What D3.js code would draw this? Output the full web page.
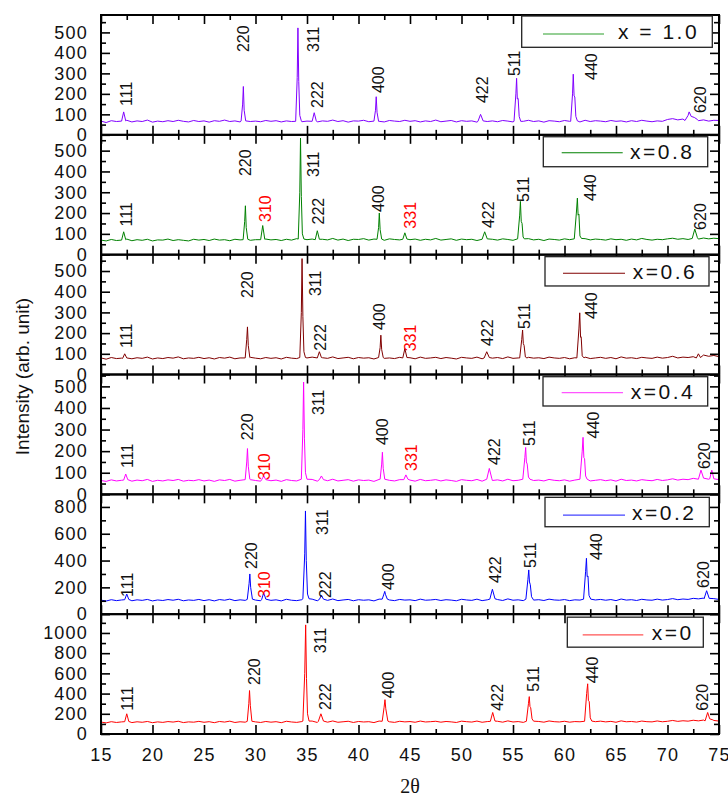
<!DOCTYPE html>
<html lang="en">
<head>
<meta charset="UTF-8">
<title>XRD patterns</title>
<script src="https://cdn.jsdelivr.net/npm/d3@7"></script>
<style>
  html, body { margin: 0; background: #fff; overflow: hidden; }
  text { font-family: "Liberation Sans", Arial, sans-serif; }
</style>
</head>
<body>
<svg id="svg"></svg>
<script>
// ---- data ----
const compositions = ['x = 1.0', 'x=0.8', 'x=0.6', 'x=0.4', 'x=0.2', 'x=0'];
const yMax = [585, 576, 579, 555, 894, 1186];
const yMajor = [[0, 100, 200, 300, 400, 500], [0, 100, 200, 300, 400, 500], [0, 100, 200, 300, 400, 500],
                [0, 100, 200, 300, 400, 500], [0, 200, 400, 600, 800], [0, 200, 400, 600, 800, 1000]];
const yMinor = [[50, 150, 250, 350, 450, 550], [50, 150, 250, 350, 450, 550], [50, 150, 250, 350, 450, 550],
                [50, 150, 250, 350, 450, 550], [100, 300, 500, 700], [100, 300, 500, 700, 900, 1100]];
const xMajor = [15, 20, 25, 30, 35, 40, 45, 50, 55, 60, 65, 70, 75];
const xMinor = [17.5, 22.5, 27.5, 32.5, 37.5, 42.5, 47.5, 52.5, 57.5, 62.5, 67.5, 72.5];

// background counts, one value every 0.5 deg from 15 to 75
const theta = d3.range(15, 75.001, 0.5);
const base10 = [67,60,69,65,68,71,63,68,65,72,62,67,64,69,65,71,66,63,70,65,68,62,69,66,72,65,68,63,71,65,
  67,64,70,66,69,63,68,65,71,64,67,70,63,68,66,72,65,69,62,68,67,71,64,69,66,63,70,67,65,71,
  66,69,63,68,65,72,64,67,70,63,69,66,68,62,71,65,68,64,70,67,63,69,66,71,65,68,62,69,67,64,
  70,66,68,63,71,65,69,67,64,70,66,68,63,69,65,71,67,64,68,66,75,79,73,77,71,75,69,73,67,71,70];
const base08 = [70,66,73,68,71,75,67,72,69,74,66,71,70,75,68,72,69,66,74,70,73,68,75,70,72,67,74,71,76,69,
  72,70,75,71,73,68,74,70,77,69,72,75,70,74,71,78,70,75,68,74,73,77,70,75,72,69,76,73,71,77,
  72,75,69,74,71,78,70,73,76,69,75,72,74,68,77,71,74,70,76,73,69,75,72,77,71,74,68,75,73,70,
  76,72,74,69,77,71,75,73,70,76,72,74,69,75,71,78,73,70,74,72,76,79,74,77,73,78,75,80,76,79,77];
const base06 = [80,74,82,77,79,83,76,81,78,84,75,80,77,82,79,85,76,80,78,83,77,81,75,82,79,84,76,80,78,83,
  79,76,82,78,81,75,83,79,77,82,80,84,76,81,78,85,77,80,83,76,82,79,81,75,84,78,80,77,83,79,
  81,76,84,78,80,83,77,82,79,75,83,80,78,84,76,81,79,82,77,85,78,80,76,83,79,81,77,84,80,78,
  82,76,81,79,84,77,80,83,78,82,76,85,79,81,77,83,80,78,84,79,82,88,80,84,82,86,90,94,88,92,86];
const base04 = [64,60,67,62,65,68,61,66,63,69,60,65,62,67,64,69,61,65,63,68,62,66,60,67,64,69,61,65,63,68,
  64,61,67,63,66,60,68,64,62,67,65,69,61,66,63,70,62,65,68,61,67,64,66,60,69,63,65,62,68,64,
  66,61,69,63,65,68,62,67,64,60,68,65,63,69,61,66,64,67,62,70,63,65,61,68,64,66,62,69,65,63,
  67,61,66,64,69,62,65,68,63,67,61,70,64,66,62,68,65,63,69,64,67,72,66,70,68,74,71,76,70,73,68];
const base02 = [105,98,108,101,106,112,100,107,103,110,99,106,102,109,104,111,100,106,103,110,101,108,99,109,104,112,101,107,103,110,
  105,100,109,103,107,99,111,104,101,108,106,112,100,107,103,113,101,106,110,100,108,104,107,99,112,103,106,101,110,105,
  107,101,112,104,106,110,102,108,105,100,111,106,103,112,101,107,105,109,102,114,104,107,101,110,105,108,102,112,106,104,
  109,101,107,105,112,102,106,110,104,109,101,113,105,108,102,111,106,104,112,105,109,116,108,113,110,118,114,120,112,116,110];
const base00 = [118,110,122,114,120,126,113,121,116,124,112,120,115,123,118,126,113,120,117,125,116,122,112,124,118,127,114,121,117,125,
  120,114,124,117,122,112,126,119,115,123,120,128,114,122,117,129,116,121,126,114,124,119,122,113,128,118,121,115,126,120,
  123,116,128,119,122,126,117,124,120,114,127,122,118,128,116,123,120,126,117,130,119,123,115,127,121,124,117,129,122,119,
  126,117,123,121,129,118,122,127,120,125,116,130,121,124,118,128,122,120,129,121,126,134,125,131,127,136,130,138,129,134,128];

// reflections: [2theta, counts] points across each peak
const peaks10 = [
  [[17.0,67],[17.2,112],[17.4,68]],
  [[28.6,67],[28.75,150],[28.82,236],[28.9,120],[29.05,68]],
  [[33.9,66],[34.05,280],[34.12,522],[34.2,260],[34.3,95],[34.45,68]],
  [[35.5,66],[35.7,108],[35.9,68]],
  [[41.5,67],[41.65,120],[41.72,186],[41.8,110],[41.95,66]],
  [[51.6,66],[51.85,100],[52.1,68]],
  [[55.1,66],[55.28,200],[55.35,276],[55.42,175],[55.5,178],[55.6,90],[55.75,66]],
  [[60.6,66],[60.78,200],[60.85,296],[60.93,190],[61.0,185],[61.1,90],[61.25,68]],
  [[71.7,70],[72.0,95],[72.1,112],[72.3,90],[72.6,85],[72.9,75]]
];
const peaks08 = [
  [[17.0,70],[17.2,110],[17.4,72]],
  [[28.8,72],[28.95,160],[29.02,235],[29.1,130],[29.25,74]],
  [[30.5,72],[30.7,140],[30.9,74]],
  [[34.15,75],[34.3,300],[34.37,560],[34.45,280],[34.55,100],[34.7,75]],
  [[35.8,72],[36.0,115],[36.2,74]],
  [[41.8,74],[41.95,130],[42.02,200],[42.1,120],[42.25,75]],
  [[44.3,74],[44.5,105],[44.7,75]],
  [[52.0,74],[52.25,110],[52.5,76]],
  [[55.45,76],[55.65,190],[55.72,256],[55.8,160],[55.88,150],[55.98,85],[56.1,76]],
  [[60.95,76],[61.15,200],[61.25,272],[61.32,190],[61.4,195],[61.5,90],[61.65,78]],
  [[72.4,78],[72.65,123],[72.9,82]]
];
const peaks06 = [
  [[17.1,78],[17.3,100],[17.5,80]],
  [[29.0,80],[29.15,170],[29.22,230],[29.3,140],[29.45,82]],
  [[34.3,82],[34.45,300],[34.52,560],[34.6,280],[34.7,110],[34.85,82]],
  [[36.0,80],[36.2,110],[36.4,82]],
  [[41.95,82],[42.1,130],[42.17,190],[42.25,120],[42.4,82]],
  [[44.3,80],[44.5,125],[44.7,82]],
  [[52.2,80],[52.45,110],[52.7,82]],
  [[55.65,80],[55.85,170],[55.93,215],[56.0,150],[56.08,140],[56.2,85],[56.35,80]],
  [[61.2,80],[61.4,220],[61.48,298],[61.56,180],[61.62,182],[61.72,90],[61.9,80]],
  [[72.8,80],[73.0,100],[73.2,82]]
];
const peaks04 = [
  [[17.2,66],[17.4,94],[17.6,68]],
  [[29.0,68],[29.15,150],[29.22,212],[29.3,130],[29.45,70]],
  [[30.6,68],[30.8,85],[31.0,68]],
  [[34.45,70],[34.6,300],[34.67,520],[34.75,260],[34.85,100],[35.0,70]],
  [[36.2,68],[36.4,85],[36.6,68]],
  [[42.1,70],[42.25,140],[42.32,195],[42.4,120],[42.55,70]],
  [[44.4,68],[44.6,90],[44.8,70]],
  [[52.45,70],[52.7,120],[52.95,72]],
  [[55.95,70],[56.15,170],[56.23,217],[56.3,150],[56.38,140],[56.5,80],[56.65,70]],
  [[61.5,70],[61.72,200],[61.8,264],[61.88,170],[61.95,165],[62.05,85],[62.2,70]],
  [[73.0,70],[73.25,112],[73.5,75]],
  [[74.1,72],[74.3,112],[74.5,72]]
];
const peaks02 = [
  [[17.3,108],[17.5,150],[17.7,110]],
  [[29.2,110],[29.38,230],[29.45,300],[29.53,200],[29.7,112]],
  [[30.6,110],[30.8,160],[31.0,112]],
  [[34.6,115],[34.78,450],[34.85,770],[34.93,400],[35.05,150],[35.2,115]],
  [[36.2,110],[36.4,140],[36.6,112]],
  [[42.3,112],[42.47,150],[42.55,170],[42.63,145],[42.8,112]],
  [[52.75,112],[53.0,186],[53.25,115]],
  [[56.25,112],[56.45,260],[56.53,330],[56.6,240],[56.68,220],[56.8,130],[56.95,112]],
  [[61.85,112],[62.05,320],[62.13,417],[62.2,280],[62.28,285],[62.38,140],[62.55,112]],
  [[73.55,115],[73.8,175],[74.05,118]]
];
const peaks00 = [
  [[17.3,122],[17.5,200],[17.7,124]],
  [[29.2,125],[29.35,300],[29.42,430],[29.5,280],[29.65,126]],
  [[34.6,128],[34.78,600],[34.87,1080],[34.95,550],[35.05,200],[35.2,128]],
  [[36.1,125],[36.35,200],[36.6,128]],
  [[42.3,126],[42.48,260],[42.57,340],[42.65,250],[42.85,128]],
  [[52.8,125],[53.03,213],[53.25,128]],
  [[56.3,126],[56.5,300],[56.58,370],[56.65,270],[56.72,260],[56.85,150],[57.0,127]],
  [[61.95,126],[62.15,400],[62.25,497],[62.32,330],[62.4,323],[62.5,160],[62.65,128]],
  [[73.65,130],[73.9,213],[74.1,150],[74.4,140]]
];

// hkl labels: [text, 2theta, counts at foot of label, impurity?]
const hkl10 = [['111',17.5,141],['220',28.8,404],['311',35.65,404],['222',36.0,131],['400',41.9,204],
  ['422',52.0,155],['511',55.1,287],['440',62.65,268],['620',73.15,106]];
const hkl08 = [['111',17.5,135],['220',29.0,378],['310',31.0,157,true],['311',35.6,373],['222',36.1,145],
  ['400',41.9,205],['331',45.0,125,true],['422',52.6,128],['511',55.97,253],['440',62.48,258],['620',73.16,119]];
const hkl06 = [['111',17.5,128],['220',29.2,370],['311',35.8,379],['222',36.3,115],['400',42.0,215],
  ['331',45.0,112,true],['422',52.54,138],['511',56.15,220],['440',62.64,268]];
const hkl04 = [['111',17.57,122],['220',29.2,251],['310',30.9,66,true],['311',36.1,367],['400',42.3,228],
  ['331',45.1,108,true],['422',53.16,136],['511',56.55,224],['440',62.77,259],['620',73.54,117]];
const hkl02 = [['111',17.6,128],['220',29.6,337],['310',30.9,121,true],['311',36.5,591],['222',36.8,120],
  ['400',42.9,180],['422',53.3,233],['511',56.7,345],['440',63.06,404],['620',73.45,196]];
const hkl00 = [['111',17.57,231],['220',29.9,485],['311',36.3,800],['222',36.8,238],['400',42.9,353],
  ['422',53.5,231],['511',56.94,419],['440',62.67,502],['620',73.4,231]];

const bases = [base10, base08, base06, base04, base02, base00];
const peakSets = [peaks10, peaks08, peaks06, peaks04, peaks02, peaks00];
const hklSets = [hkl10, hkl08, hkl06, hkl04, hkl02, hkl00];

// ---- styles / layout ----
const lineColors = ['#8000ff', '#008000', '#800000', '#ff00ff', '#0000ff', '#ff0000'];
const legendColors = ['#2ca02c', '#008000', '#800000', '#ff55ff', '#4444ff', '#ff5555'];
// legend box: [x0, x1, top offset, bottom offset, line x0, line x1, line offset, text x]
const legendLayout = [
  [521.7, 712.3, 1, 32.3, 543, 604, 19, 618],
  [543.3, 707.7, 1.9, 31.9, 561.7, 622.7, 17.9, 630],
  [545, 709, 2, 31.3, 563, 625, 18.6, 632.7],
  [543, 707.7, 2.2, 31.5, 561.7, 623, 18.2, 630.7],
  [545, 709.3, 3, 32.4, 563, 625, 20.7, 632],
  [567.3, 703.3, 3, 33, 582.7, 643.3, 20.8, 651.7]
];

const width = 728, height = 799;
const margin = { top: 15, left: 101, right: 9, bottom: 65 };
const innerWidth = width - margin.left - margin.right;
const panelH = (height - margin.top - margin.bottom) / 6;

const svg = d3.select('#svg').attr('width', width).attr('height', height);
const x = d3.scaleLinear().domain([15, 75]).range([margin.left, margin.left + innerWidth]);

const buildSeries = (base, peaks) => {
  const pts = theta.map((t, j) => [t, base[j]])
    .filter(([t]) => !peaks.some(pk => t >= pk[0][0] && t <= pk[pk.length - 1][0]));
  peaks.forEach(pk => pts.push(...pk));
  return pts.sort((a, b) => a[0] - b[0]);
};

const styleAxis = (g, w) => {
  g.select('.domain').remove();
  g.selectAll('.tick line').attr('stroke', '#000').attr('stroke-width', w);
};

compositions.forEach((name, i) => {
  const top = margin.top + i * panelH;
  const bottom = top + panelH;
  const y = d3.scaleLinear().domain([0, yMax[i]]).range([bottom, top]);
  const g = svg.append('g');

  g.append('clipPath').attr('id', 'clip' + i)
    .append('rect').attr('x', x(15)).attr('y', top).attr('width', innerWidth).attr('height', panelH);

  g.append('path')
    .datum(buildSeries(bases[i], peakSets[i]))
    .attr('clip-path', `url(#clip${i})`)
    .attr('fill', 'none')
    .attr('stroke', lineColors[i])
    .attr('stroke-width', 1)
    .attr('d', d3.line().x(d => x(d[0])).y(d => y(d[1])));

  // y axes (ticks inside)
  g.append('g').attr('transform', `translate(${x(15)},0)`)
    .call(d3.axisLeft(y).tickValues(yMajor[i]).tickSize(-9).tickPadding(13).tickFormat(d3.format('d')))
    .call(a => styleAxis(a, 1.6))
    .call(a => a.selectAll('text').attr('font-size', 18).attr('fill', '#111').attr('letter-spacing', 1.2));
  g.append('g').attr('transform', `translate(${x(15)},0)`)
    .call(d3.axisLeft(y).tickValues(yMinor[i].filter(v => v < yMax[i])).tickSize(-5).tickFormat(''))
    .call(a => styleAxis(a, 1.6));
  g.append('g').attr('transform', `translate(${x(75)},0)`)
    .call(d3.axisRight(y).tickValues(yMajor[i]).tickSize(-9).tickFormat(''))
    .call(a => styleAxis(a, 1.6));
  g.append('g').attr('transform', `translate(${x(75)},0)`)
    .call(d3.axisRight(y).tickValues(yMinor[i].filter(v => v < yMax[i])).tickSize(-5).tickFormat(''))
    .call(a => styleAxis(a, 1.6));

  // x axes (top and bottom of each panel)
  g.append('g').attr('transform', `translate(0,${top})`)
    .call(d3.axisTop(x).tickValues(xMajor).tickSize(-9).tickFormat(''))
    .call(a => styleAxis(a, 1.6));
  g.append('g').attr('transform', `translate(0,${top})`)
    .call(d3.axisTop(x).tickValues(xMinor).tickSize(-5).tickFormat(''))
    .call(a => styleAxis(a, 1.6));
  const bx = g.append('g').attr('transform', `translate(0,${bottom})`)
    .call(d3.axisBottom(x).tickValues(xMajor).tickSize(-9).tickPadding(14)
      .tickFormat(i === 5 ? d3.format('d') : ''))
    .call(a => styleAxis(a, 1.6));
  bx.selectAll('text').attr('font-size', 18).attr('fill', '#111').attr('letter-spacing', 1.2);
  g.append('g').attr('transform', `translate(0,${bottom})`)
    .call(d3.axisBottom(x).tickValues(xMinor).tickSize(-5).tickFormat(''))
    .call(a => styleAxis(a, 1.6));

  // frame
  g.append('rect')
    .attr('x', x(15)).attr('y', top).attr('width', innerWidth).attr('height', panelH)
    .attr('fill', 'none').attr('stroke', '#000').attr('stroke-width', 2);

  // hkl labels
  g.selectAll('text.hkl').data(hklSets[i]).join('text')
    .attr('class', 'hkl')
    .attr('transform', d => `translate(${x(d[1])},${y(d[2])}) rotate(-90)`)
    .attr('dy', '0.35em')
    .attr('font-size', 16)
    .attr('fill', d => d[3] ? '#ff0000' : '#111')
    .text(d => d[0]);

  // legend
  const L = legendLayout[i];
  g.append('rect')
    .attr('x', L[0]).attr('y', top + L[2]).attr('width', L[1] - L[0]).attr('height', L[3] - L[2])
    .attr('fill', '#fff').attr('stroke', '#222').attr('stroke-width', 1.3);
  g.append('line')
    .attr('x1', L[4]).attr('x2', L[5]).attr('y1', top + L[6]).attr('y2', top + L[6])
    .attr('stroke', legendColors[i]).attr('stroke-width', 1.2);
  g.append('text')
    .attr('x', L[7]).attr('y', top + (L[2] + L[3]) / 2).attr('dy', '0.36em')
    .attr('font-size', 21).attr('letter-spacing', 2.5).attr('fill', '#111')
    .text(name);
});

svg.append('text')
  .attr('transform', `translate(22,${margin.top + 3 * panelH + 2}) rotate(-90)`)
  .attr('text-anchor', 'middle').attr('dy', '0.35em')
  .attr('font-size', 19).attr('fill', '#111')
  .text('Intensity (arb. unit)');

svg.append('text')
  .attr('x', 410).attr('y', 793)
  .attr('text-anchor', 'middle')
  .style('font-family', '"Liberation Serif", "Times New Roman", serif')
  .attr('font-size', 20).attr('fill', '#111')
  .text('2θ');
</script>
</body>
</html>
